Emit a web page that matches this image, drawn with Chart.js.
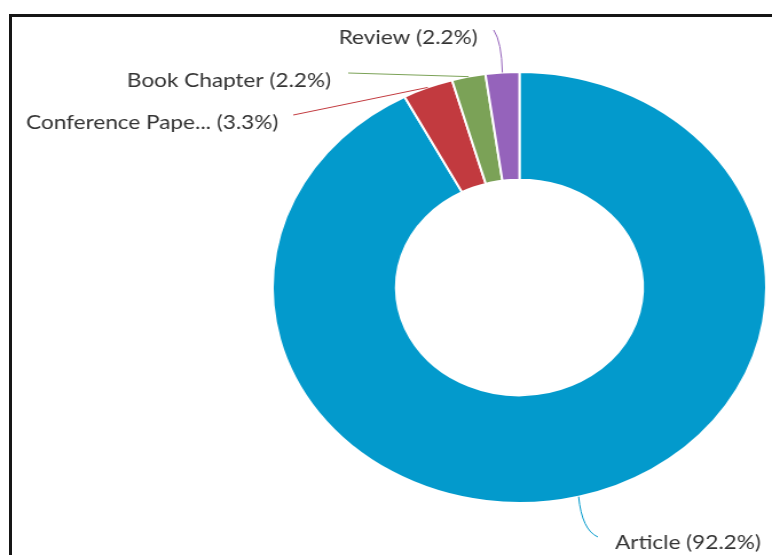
<!DOCTYPE html>
<html>
<head>
<meta charset="utf-8">
<title>Documents by type</title>
<script src="https://cdn.jsdelivr.net/npm/chart.js@4.4.1/dist/chart.umd.min.js"></script>
<style>
  html, body { margin: 0; padding: 0; background: #fff; overflow: hidden; }
  #frame {
    position: absolute; left: 9px; top: 14px; width: 800px; height: 600px;
    border-top: 3px solid #161616; border-left: 3px solid #161616;
  }
  /* the chart is drawn a bit narrow and stretched sideways */
  #wrap {
    position: absolute; left: 0; top: 0; width: 674px; height: 555px;
    transform: scaleX(1.1454); transform-origin: 0 0;
  }
</style>
</head>
<body>
<div id="frame"></div>
<div id="wrap"><canvas id="typeChart"></canvas></div>
<script>
// Document types and their share of the total (%)
const docTypes = ["Article", "Conference Paper", "Book Chapter", "Review"];
const sharePct = [92.2, 3.3, 2.2, 2.2];
const sliceColors = ["#039acc", "#c23a3f", "#7ba257", "#9563bb"];

// Where each label sits and where its connector ends
const labelSpots = [
  { text: [537, 543], align: "left", end: [522, 537], bend: [508, 530] },
  { text: [243, 123], align: "right", end: [256, 115] },
  { text: [289, 81], align: "right", end: [304, 73] },
  { text: [417, 38], align: "right", end: [431, 30], bend: [438, 42] },
];

function shortName(name) {
  return name.length > 15 ? name.slice(0, 15) + "..." : name;
}

// Draw the outside labels with their connector lines
const sliceLabels = {
  id: "sliceLabels",
  afterDraw(chart) {
    const ctx = chart.ctx;
    const arcs = chart.getDatasetMeta(0).data;
    ctx.save();
    arcs.forEach((arc, i) => {
      const spot = labelSpots[i];
      const mid = (arc.startAngle + arc.endAngle) / 2;
      const sx = arc.x + Math.cos(mid) * arc.outerRadius;
      const sy = arc.y + Math.sin(mid) * arc.outerRadius;

      ctx.strokeStyle = sliceColors[i];
      ctx.lineWidth = 1;
      ctx.beginPath();
      ctx.moveTo(sx, sy);
      if (spot.bend) {
        ctx.quadraticCurveTo(spot.bend[0], spot.bend[1], spot.end[0], spot.end[1]);
      } else {
        ctx.lineTo(spot.end[0], spot.end[1]);
      }
      ctx.stroke();

      ctx.fillStyle = "#333333";
      ctx.font = "19.7px Lato, 'Liberation Sans', sans-serif";
      ctx.textAlign = spot.align;
      ctx.textBaseline = "middle";
      const txt = shortName(docTypes[i]) + " (" + sharePct[i].toFixed(1) + "%)";
      ctx.fillText(txt, spot.text[0], spot.text[1]);
    });
    ctx.restore();
  },
};

const ctx = document.getElementById("typeChart").getContext("2d");
const typeChart = new Chart(ctx, {
  type: "doughnut",
  data: {
    labels: docTypes,
    datasets: [
      {
        data: sharePct,
        backgroundColor: sliceColors,
        borderColor: "#ffffff",
        borderWidth: 2,
        hoverOffset: 0,
      },
    ],
  },
  options: {
    responsive: true,
    maintainAspectRatio: false,
    animation: false,
    cutout: "50%",
    layout: { padding: { left: 237, top: 71, right: 4, bottom: 51 } },
    plugins: {
      legend: { display: false },
      tooltip: { enabled: false },
    },
  },
  plugins: [sliceLabels],
});
</script>
</body>
</html>
